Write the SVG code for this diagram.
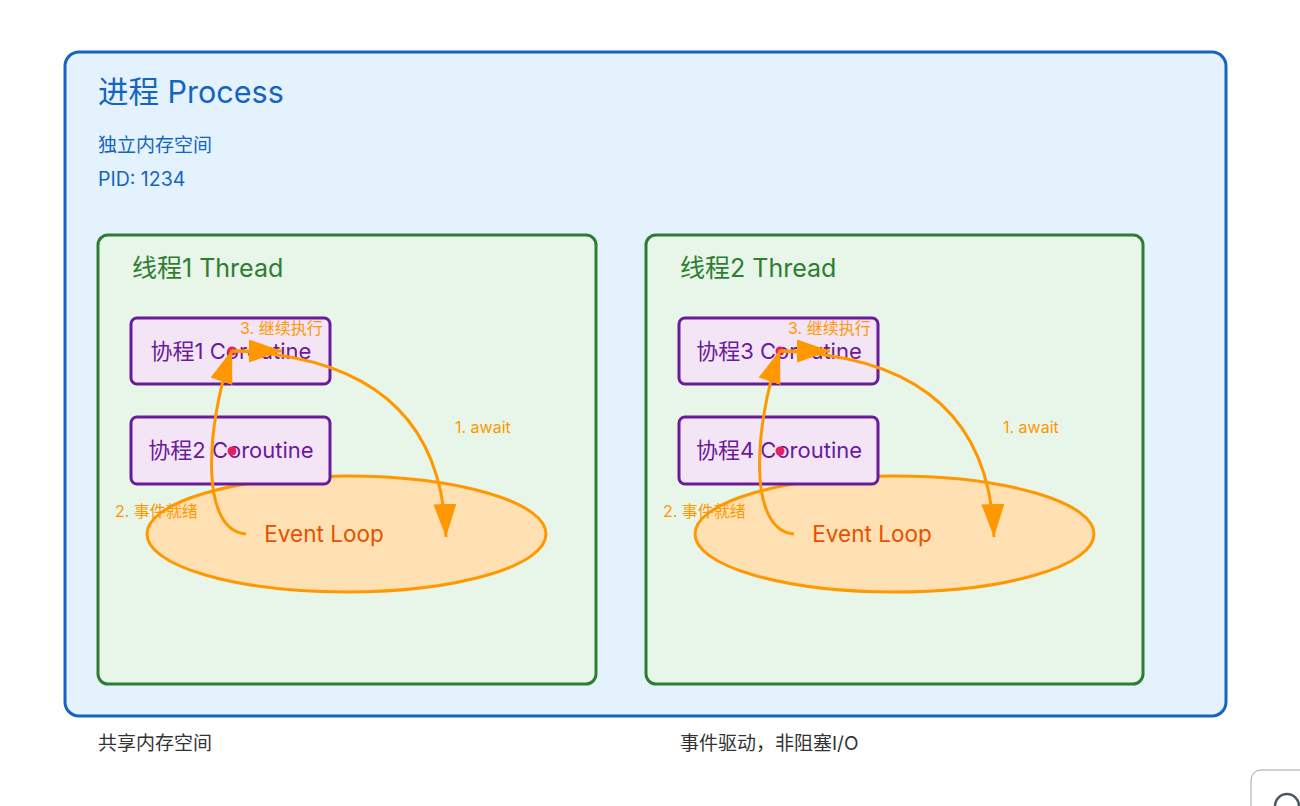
<svg xmlns="http://www.w3.org/2000/svg" width="1300" height="806" viewBox="0 0 1300 806">
<defs>
<style>
text{font-family:Inter,"Noto Sans CJK SC",sans-serif}
.proc{fill:#e3f2fd;stroke:#1565c0;stroke-width:3}
.thr{fill:#e8f5e9;stroke:#2e7d32;stroke-width:3}
.co{fill:#f3e5f5;stroke:#6a1b9a;stroke-width:3}
.cot{fill:#6a1b9a;font-size:22px;text-anchor:middle}
.el{fill:#ffe0b2;stroke:#ff9800;stroke-width:3}
.elt{fill:#e65100;font-size:22.5px;text-anchor:middle}
.blue{fill:#1565c0}
.tt{fill:#2e7d32;font-size:25px}
.lbl{fill:#ff9800;font-size:16px}
.arr{fill:none;stroke:#ff9800;stroke-width:3;marker-end:url(#ah)}
.dot{fill:#e91e63}
.note{fill:#333;font-size:19px}
</style>
<marker id="ah" markerUnits="userSpaceOnUse" markerWidth="34" markerHeight="24" refX="33" refY="11.5" orient="auto">
<path d="M0,0 L33,11.5 L0,23 Z" fill="#ff9800"/>
</marker>
</defs>
<rect width="1300" height="806" fill="#ffffff"/>
<g id="process">
<rect class="proc" x="65" y="52" width="1161" height="664" rx="14"/>
<text class="blue" x="98" y="103" font-size="30.5">进程 Process</text>
<text class="blue" x="98" y="152" font-size="19">独立内存空间</text>
<text class="blue" x="98" y="186" font-size="19.5">PID: 1234</text>
</g>
<g id="thread1">
<rect class="thr" x="98" y="235" width="498" height="449" rx="10"/>
<text class="tt" x="132" y="277">线程1 Thread</text>
</g>
<g id="thread2">
<rect class="thr" x="646" y="235" width="497" height="449" rx="10"/>
<text class="tt" x="680" y="277">线程2 Thread</text>
</g>
<g id="eventloop1">
<ellipse class="el" cx="346.5" cy="534" rx="199.5" ry="58"/>
<text class="elt" x="324" y="542">Event Loop</text>
</g>
<g id="eventloop2">
<ellipse class="el" cx="894.5" cy="534" rx="199.5" ry="58"/>
<text class="elt" x="872" y="542">Event Loop</text>
</g>
<g id="coroutine1">
<rect class="co" x="131" y="318" width="199" height="66" rx="6"/>
<text class="cot" x="231" y="359">协程1 Coroutine</text>
<circle class="dot" cx="232" cy="351" r="4.5"/>
</g>
<g id="coroutine2">
<rect class="co" x="131" y="417" width="199" height="67" rx="6"/>
<text class="cot" x="231" y="458">协程2 Coroutine</text>
<circle class="dot" cx="232" cy="451" r="4.5"/>
</g>
<g id="coroutine3">
<rect class="co" x="679" y="318" width="199" height="66" rx="6"/>
<text class="cot" x="779" y="359">协程3 Coroutine</text>
<circle class="dot" cx="780" cy="351" r="4.5"/>
</g>
<g id="coroutine4">
<rect class="co" x="679" y="417" width="199" height="67" rx="6"/>
<text class="cot" x="779" y="458">协程4 Coroutine</text>
<circle class="dot" cx="780" cy="451" r="4.5"/>
</g>
<g id="connectors">
<path class="arr" d="M232,351 Q440,358 446,537"/>
<path class="arr" d="M246,534 C200,530 205,430 232,350"/>
<path class="arr" d="M232,351 L282,351"/>
<path class="arr" d="M780,351 Q988,358 994,537"/>
<path class="arr" d="M794,534 C748,530 753,430 780,350"/>
<path class="arr" d="M780,351 L830,351"/>
</g>
<g id="labels">
<text class="lbl" x="455" y="433">1. await</text>
<text class="lbl" x="115" y="517">2. 事件就绪</text>
<text class="lbl" x="240" y="334">3. 继续执行</text>
<text class="lbl" x="1003" y="433">1. await</text>
<text class="lbl" x="663" y="517">2. 事件就绪</text>
<text class="lbl" x="788" y="334">3. 继续执行</text>
</g>
<g id="notes">
<text class="note" x="98" y="750">共享内存空间</text>
<text class="note" x="680" y="750">事件驱动，非阻塞I/O</text>
</g>
<g id="corner">
<rect x="1251" y="770" width="80" height="60" rx="10" fill="#ffffff" stroke="#9aa5b1" stroke-width="1"/>
<circle cx="1287" cy="806" r="12" fill="none" stroke="#4a5568" stroke-width="2.5"/>
</g>
</svg>
